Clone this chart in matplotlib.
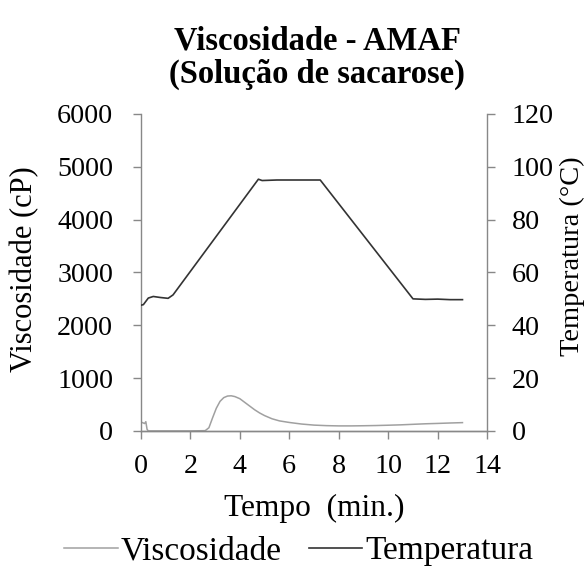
import matplotlib
matplotlib.use("Agg")
import matplotlib.pyplot as plt

# Viscosity (cP) over time (min)
visc_t = [0, 0.05, 0.1, 0.15, 0.2, 0.25, 0.3, 1.0, 2.0, 2.6, 2.75, 2.9, 3.05, 3.2,
          3.35, 3.5, 3.65, 3.8, 4.0, 4.2, 4.4, 4.6, 4.8, 5.0, 5.3, 5.6, 6.0, 6.5,
          7.0, 7.5, 8.0, 8.5, 9.0, 9.5, 10.0, 10.5, 11.0, 11.5, 12.0, 12.5, 13.0]
visc = [150, 160, 150, 140, 175, 30, 0, 0, 0, 5, 60, 250, 430, 560,
        630, 660, 665, 650, 610, 540, 470, 400, 340, 290, 230, 190, 160, 130,
        110, 100, 95, 95, 98, 102, 108, 115, 125, 135, 142, 150, 157]

# Temperature (°C) over time (min)
temp_t = [0, 0.1, 0.3, 0.5, 0.8, 1.1, 1.3, 4.75, 4.9, 5.5, 6.5, 7.25,
          11.0, 11.5, 12.0, 12.5, 13.0]
temp = [47.6, 47.8, 50.3, 50.9, 50.5, 50.2, 51.5, 95.3, 94.8, 95.0, 95.0, 95.0,
        50.0, 49.8, 49.9, 49.7, 49.7]

x_ticks = [0, 2, 4, 6, 8, 10, 12, 14]
visc_ticks = [0, 1000, 2000, 3000, 4000, 5000, 6000]
temp_ticks = [0, 20, 40, 60, 80, 100, 120]

plt.rcParams['font.family'] = ['Liberation Serif', 'DejaVu Serif']
TICK_FS = 20.2
AXC = '#888888'

fig = plt.figure(figsize=(5.87, 5.67), dpi=100)
ax = fig.add_axes([0.240, 0.240, 0.590, 0.559])
ax2 = ax.twinx()

l1, = ax.plot(visc_t, visc, color='#a0a0a0', lw=1.1, label='Viscosidade')
l2, = ax2.plot(temp_t, temp, color='#333333', lw=1.2, label='Temperatura')

ax.set_xlim(0, 14)
ax.set_ylim(0, 6000)
ax2.set_ylim(0, 120)
ax.set_xticks(x_ticks)
ax.set_yticks(visc_ticks)
ax2.set_yticks(temp_ticks)

for a in (ax, ax2):
    a.spines['top'].set_visible(False)
    for s in ('left', 'right', 'bottom'):
        a.spines[s].set_color(AXC)
        a.spines[s].set_linewidth(1.0)
    a.tick_params(direction='out', length=5.5, width=1.0, color=AXC,
                  labelsize=TICK_FS, pad=14.5)
ax.tick_params(axis='x', pad=11)
ax2.tick_params(axis='y', pad=12)
ax2.spines['left'].set_visible(False)
ax.spines['right'].set_visible(False)

ax.set_xlabel('Tempo  (min.)', fontsize=22.6)
ax.xaxis.set_label_coords(0.5, -0.20)
ax.set_ylabel('Viscosidade (cP)', fontsize=22, va='center')
ax.yaxis.set_label_coords(-0.335, 0.51)
fig.text(572 / 587, 1 - 256 / 567, 'Temperatura (°C)', rotation=90,
         fontsize=20.5, ha='center', va='center')

fig.suptitle('Viscosidade - AMAF\n(Solução de sacarose)', x=0.54, y=0.955,
             fontsize=23.5, fontweight='bold', linespacing=1.1)

fig.legend(handles=[l1, l2], loc='center', bbox_to_anchor=(0.509, 1 - 551 / 567),
           ncol=2, frameon=False, fontsize=24, handlelength=1.6,
           handletextpad=0.1, columnspacing=0.8)

fig.savefig('out.png', dpi=100)
